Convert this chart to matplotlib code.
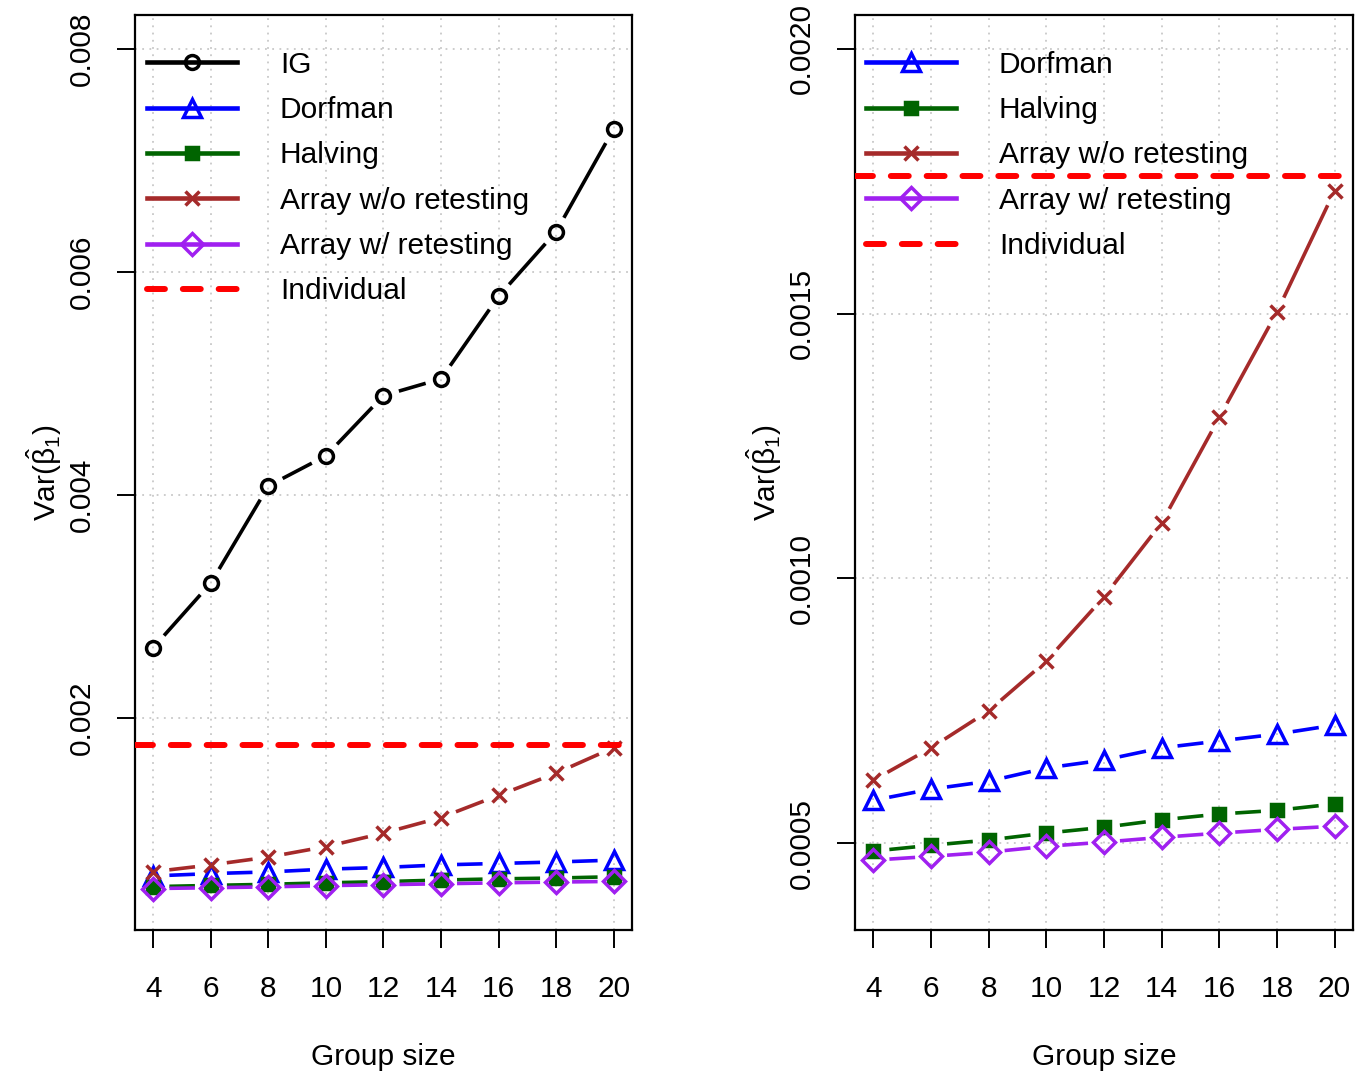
import numpy as np
import matplotlib
matplotlib.use("Agg")
import matplotlib.pyplot as plt
from matplotlib.lines import Line2D
from matplotlib.collections import LineCollection
from matplotlib.ticker import FormatStrFormatter

plt.rcParams['font.family'] = ['Liberation Sans', 'DejaVu Sans']
plt.rcParams['mathtext.fontset'] = 'custom'
plt.rcParams['mathtext.rm'] = 'Liberation Sans'
plt.rcParams['mathtext.it'] = 'Liberation Sans'
plt.rcParams['mathtext.default'] = 'regular'

# ---------------- data ----------------
group_size = [4, 6, 8, 10, 12, 14, 16, 18, 20]
ig = [0.00263, 0.00321, 0.00408, 0.00435, 0.00489, 0.00504, 0.00578, 0.00636, 0.00728]
dorfman = [0.000581, 0.000602, 0.000617, 0.000642, 0.000657, 0.000680, 0.000693, 0.000706, 0.000723]
halving = [0.000485, 0.000496, 0.000506, 0.000519, 0.000530, 0.000544, 0.000555, 0.000562, 0.000574]
array_wo = [0.000619, 0.000680, 0.000750, 0.000844, 0.000965, 0.001105, 0.001304, 0.001503, 0.001732]
array_w = [0.000468, 0.000475, 0.000483, 0.000494, 0.000502, 0.000511, 0.000519, 0.000526, 0.000532]
individual = 0.00176

left_yticks = [0.002, 0.004, 0.006, 0.008]
right_yticks = [0.0005, 0.0010, 0.0015, 0.0020]
left_ylim = (0.0004, 0.008)
right_ylim = (0.0004, 0.002)

FS = 21.5
W, H = 1363, 1076
fig = plt.figure(figsize=(W / 100, H / 100), dpi=100)


def r_ext(lo, hi):
    d = (hi - lo) * 0.04
    return lo - d, hi + d


styles = {
    'IG': dict(color='black', marker='o', ms=10, mfc='none'),
    'Dorfman': dict(color='#0000FF', marker='^', ms=13, mfc='none'),
    'Halving': dict(color='#006400', marker='s', ms=9, mfc='#006400'),
    'Array w/o retesting': dict(color='#A52A2A', marker='x', ms=10.5, mfc='none'),
    'Array w/ retesting': dict(color='#A020F0', marker='D', ms=11.5, mfc='none'),
}

LW = 2.6
MEW = 2.5
GAP = 16  # pixels


def plot_b(ax, x, y, st):
    ax.plot(x, y, linestyle='none', marker=st['marker'], ms=st['ms'],
            mfc=st['mfc'], mec=st['color'], mew=MEW, zorder=4, clip_on=False)
    trans = ax.transData
    pts = trans.transform(np.column_stack([x, y]))
    segs = []
    for p0, p1 in zip(pts[:-1], pts[1:]):
        d = p1 - p0
        L = np.hypot(d[0], d[1])
        if L > 2 * GAP:
            u = d / L
            a = trans.inverted().transform(p0 + u * GAP)
            b = trans.inverted().transform(p1 - u * GAP)
            segs.append([a, b])
    lc = LineCollection(segs, colors=st['color'], linewidths=LW, zorder=3,
                        capstyle='butt')
    ax.add_collection(lc)


def setup_axes(rect, ylim, yticks, fmt):
    ax = fig.add_axes(rect)
    ax.set_xlim(*r_ext(4, 20))
    ax.set_ylim(*r_ext(*ylim))
    ax.set_xticks(group_size)
    ax.set_yticks(yticks)
    ax.yaxis.set_major_formatter(FormatStrFormatter(fmt))
    ax.grid(True, color='#C8C8C8', linestyle=(0, (1, 3)), linewidth=1.3)
    ax.set_axisbelow(True)
    for s in ax.spines.values():
        s.set_linewidth(1.6)
        s.set_color('black')
    ax.tick_params(axis='both', direction='out', length=13, width=1.4,
                   labelsize=FS, colors='black')
    ax.tick_params(axis='x', pad=19.5)
    ax.tick_params(axis='y', pad=15, labelrotation=90)
    for lab in ax.get_yticklabels():
        lab.set_va('center')
    ax.set_xlabel('Group size', fontsize=FS)
    ax.set_ylabel(r'Var($\hat{\beta}_1$)', fontsize=FS)
    ax.xaxis.set_label_coords(0.5, -0.1235)
    ax.yaxis.set_label_coords(-0.142, 0.5)
    return ax


def legend_handles(names, with_individual=True):
    hs = []
    for n in names:
        st = styles[n]
        hs.append(Line2D([], [], color=st['color'], lw=3.3, marker=st['marker'],
                         ms=st['ms'], mfc=st['mfc'], mec=st['color'], mew=MEW))
    if with_individual:
        hs.append(Line2D([], [], color='red', lw=4.3, dashes=(3, 3),
                         dash_capstyle='round'))
    return hs


series = {
    'IG': ig,
    'Dorfman': dorfman,
    'Halving': halving,
    'Array w/o retesting': array_wo,
    'Array w/ retesting': array_w,
}

LEG = dict(loc='upper left', frameon=False, fontsize=FS, handlelength=3.0,
           handletextpad=1.45, labelspacing=0.58, borderpad=0, borderaxespad=0)

# Left panel
axL = setup_axes([135 / W, 1 - 930 / H, 497 / W, 915 / H], left_ylim, left_yticks, '%.3f')
for n in ['IG', 'Dorfman', 'Halving', 'Array w/o retesting', 'Array w/ retesting']:
    plot_b(axL, group_size, series[n], styles[n])
axL.axhline(individual, color='red', lw=4.3, dashes=(3, 3), dash_capstyle='round', zorder=5)
namesL = ['IG', 'Dorfman', 'Halving', 'Array w/o retesting', 'Array w/ retesting']
axL.legend(legend_handles(namesL), namesL + ['Individual'],
           bbox_to_anchor=(0.024, 0.961), **LEG)

# Right panel
axR = setup_axes([855 / W, 1 - 930 / H, 498 / W, 915 / H], right_ylim, right_yticks, '%.4f')
for n in ['Dorfman', 'Halving', 'Array w/o retesting', 'Array w/ retesting']:
    plot_b(axR, group_size, series[n], styles[n])
axR.axhline(individual, color='red', lw=4.3, dashes=(3, 3), dash_capstyle='round', zorder=5)
namesR = ['Dorfman', 'Halving', 'Array w/o retesting', 'Array w/ retesting']
axR.legend(legend_handles(namesR), namesR + ['Individual'],
           bbox_to_anchor=(0.022, 0.961), **LEG)

fig.savefig('out.png', dpi=100)
